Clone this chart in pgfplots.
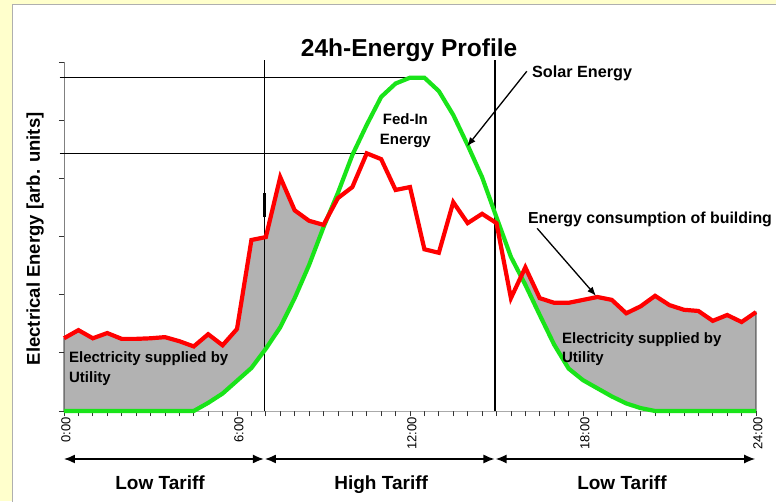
\documentclass[border=0pt]{standalone}
\usepackage{fontspec}
\setmainfont{Liberation Sans}
\usepackage{pgfplots}
\pgfplotsset{compat=1.18}
\usepackage{pgfplotstable}
\usetikzlibrary{arrows.meta}
\definecolor{bgyellow}{RGB}{255,255,204}
\definecolor{panelgray}{RGB}{175,175,175}
\definecolor{fillgray}{RGB}{178,178,178}
\definecolor{solargreen}{RGB}{25,228,25}
\definecolor{consred}{RGB}{255,0,0}

\pgfplotstableread{
h v
0 1.25
0.5 1.39
1 1.25
1.5 1.34
2 1.24
2.5 1.24
3 1.25
3.5 1.27
4 1.20
4.5 1.11
5 1.32
5.5 1.13
6 1.41
6.5 2.94
7 2.99
7.5 4.02
8 3.45
8.5 3.27
9 3.20
9.5 3.66
10 3.85
10.5 4.43
11 4.33
11.5 3.80
12 3.85
12.5 2.78
13 2.72
13.5 3.59
14 3.23
14.5 3.39
15 3.23
15.5 1.94
16 2.47
16.5 1.94
17 1.86
17.5 1.86
18 1.91
18.5 1.96
19 1.91
19.5 1.68
20 1.80
20.5 1.98
21 1.82
21.5 1.74
22 1.72
22.5 1.55
23 1.65
23.5 1.53
24 1.70
}\redtab

\pgfplotstableread{
h v
0 0
0.5 0
1 0
1.5 0
2 0
2.5 0
3 0
3.5 0
4 0
4.5 0
5 0.14
5.5 0.30
6 0.52
6.5 0.74
7 1.07
7.5 1.44
8 1.94
8.5 2.51
9 3.16
9.5 3.75
10 4.40
10.5 4.92
11 5.40
11.5 5.63
12 5.73
12.5 5.73
13 5.50
13.5 5.09
14 4.57
14.5 4.02
15 3.33
15.5 2.65
16 2.17
16.5 1.65
17 1.14
17.5 0.73
18 0.53
18.5 0.39
19 0.25
19.5 0.13
20 0.05
20.5 0
21 0
21.5 0
22 0
22.5 0
23 0
23.5 0
24 0
}\greentab

\begin{document}
\begin{tikzpicture}
\useasboundingbox (-64pt,-90pt) rectangle (712pt,411pt);
\begin{scope}
\clip (-64pt,-90pt) rectangle (712pt,411pt);
\fill[bgyellow] (-64pt,-90pt) rectangle (712pt,411pt);
\filldraw[fill=white, draw=panelgray, line width=0.8pt] (-52pt,-95pt) rectangle (720pt,407pt);
\begin{axis}[
  scale only axis, width=692pt, height=349pt,
  xmin=0, xmax=24, ymin=0, ymax=6, enlargelimits=false,
  axis lines*=left, clip=false,
  x axis line style={draw=none},
  y axis line style={draw=gray, line width=0.9pt},
  xtick={0,6,12,18,24}, xticklabels={0:00,6:00,12:00,18:00,24:00},
  minor xtick={0,0.5,...,24},
  ytick={0,1,...,6}, yticklabels={},
  tick align=outside, major tick length=5pt, minor tick length=5pt,
  every tick/.style={black!80, line width=0.8pt},
  every minor tick/.style={black!80, line width=0.8pt},
  xticklabel style={rotate=90, anchor=east, inner sep=1pt, yshift=-2pt, font=\fontsize{13}{13}\selectfont},
]
% grey area under consumption, then white under solar
\addplot[fill=fillgray, draw=black, line width=0.8pt] table[x=h,y=v]{\redtab} \closedcycle;
\addplot[fill=white, draw=none] table[x=h,y=v]{\greentab} \closedcycle;
% reference lines
\draw[black, line width=1.3pt] (axis cs:6.95,0) -- (axis cs:6.95,6.04);
\draw[black, line width=1.3pt] (axis cs:14.95,0) -- (axis cs:14.95,6.04);
\draw[black, line width=2.4pt] (axis cs:6.95,3.33) -- (axis cs:6.95,3.75);
\draw[black, line width=2.4pt] (axis cs:14.95,1.62) -- (axis cs:14.95,2.03);
\draw[black, line width=1.3pt] (axis cs:-0.15,5.73) -- (axis cs:12.2,5.73);
\draw[black, line width=1.3pt] (axis cs:-0.15,4.43) -- (axis cs:10.55,4.43);
% curves
\addplot[solargreen, line width=4.2pt] table[x=h,y=v]{\greentab};
\addplot[consred, line width=4.2pt, line join=miter] table[x=h,y=v]{\redtab};
% title and axis label
\node[anchor=base, font=\fontsize{24.5}{24.5}\selectfont\bfseries] at (axis cs:11.97,6.086) {24h-Energy Profile};
\node[rotate=90, font=\fontsize{18.5}{18.5}\selectfont\bfseries] at (axis cs:-1.0,2.96) {Electrical Energy [arb. units]};
% annotations
\node[anchor=base west, inner sep=0pt, font=\fontsize{16.2}{16.2}\selectfont\bfseries] at (axis cs:16.23,5.742) {Solar Energy};
\draw[-{Latex[length=9pt,width=7pt]}, line width=1.3pt] (axis cs:16.05,5.84) -- (axis cs:13.98,4.55);
\node[anchor=base, inner sep=0pt, font=\fontsize{15}{15}\selectfont\bfseries] at (axis cs:11.84,4.917) {Fed-In};
\node[anchor=base, inner sep=0pt, font=\fontsize{15}{15}\selectfont\bfseries] at (axis cs:11.84,4.59) {Energy};
\node[anchor=base west, inner sep=0pt, font=\fontsize{15.9}{15.9}\selectfont\bfseries] at (axis cs:16.09,3.215) {Energy consumption of building};
\draw[-{Latex[length=9pt,width=7pt]}, line width=1.3pt] (axis cs:16.41,3.14) -- (axis cs:18.45,1.98);
\node[anchor=base west, inner sep=0pt, font=\fontsize{15}{15}\selectfont\bfseries] at (axis cs:0.17,0.830) {Electricity supplied by};
\node[anchor=base west, inner sep=0pt, font=\fontsize{15}{15}\selectfont\bfseries] at (axis cs:0.17,0.487) {Utility};
\node[anchor=base west, inner sep=0pt, font=\fontsize{15}{15}\selectfont\bfseries] at (axis cs:17.27,1.164) {Electricity supplied by};
\node[anchor=base west, inner sep=0pt, font=\fontsize{15}{15}\selectfont\bfseries] at (axis cs:17.27,0.830) {Utility};
% tariff arrows
\draw[{Latex[length=11pt,width=9pt]}-{Latex[length=11pt,width=9pt]}, line width=1.4pt] (axis cs:0,-0.825) -- (axis cs:6.93,-0.825);
\draw[{Latex[length=11pt,width=9pt]}-{Latex[length=11pt,width=9pt]}, line width=1.4pt] (axis cs:6.97,-0.825) -- (axis cs:14.93,-0.825);
\draw[{Latex[length=11pt,width=9pt]}-{Latex[length=11pt,width=9pt]}, line width=1.4pt] (axis cs:14.97,-0.825) -- (axis cs:23.97,-0.825);
\node[anchor=base, font=\fontsize{19}{19}\selectfont\bfseries] at (axis cs:3.33,-1.341) {Low Tariff};
\node[anchor=base, font=\fontsize{19}{19}\selectfont\bfseries] at (axis cs:11.0,-1.341) {High Tariff};
\node[anchor=base, font=\fontsize{19}{19}\selectfont\bfseries] at (axis cs:19.35,-1.341) {Low Tariff};
\end{axis}
\end{scope}
\end{tikzpicture}
\end{document}
